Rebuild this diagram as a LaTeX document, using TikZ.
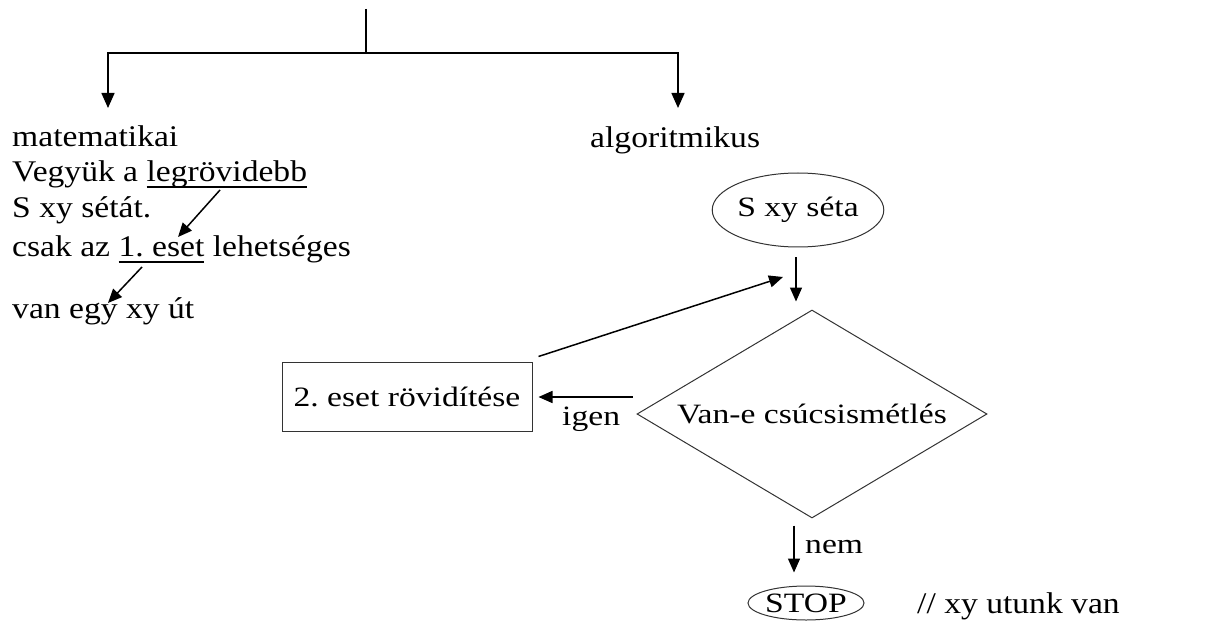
\documentclass[tikz,border=0pt]{standalone}
\usepackage{fontspec}
\setmainfont[FakeStretch=1.2]{Liberation Serif}
\newfontfamily\camfont[FakeStretch=1.12]{Liberation Serif}
\usetikzlibrary{shapes.geometric,arrows.meta}
\newcommand\myul[1]{\sbox0{#1}\rlap{\rule[-6pt]{\wd0}{1.6pt}}\usebox0}
\frenchspacing
\begin{document}
\begin{tikzpicture}[x=1pt,y=-1pt,
  txt/.style={font=\camfont\fontsize{30pt}{36pt}\selectfont, inner sep=0pt, anchor=base west},
  ftxt/.style={font=\fontsize{28pt}{34pt}\selectfont, inner sep=0pt, anchor=base west},
  arr/.style={line width=1.5pt, -{Triangle[length=15pt,width=13pt]}},
  sarr/.style={line width=1.5pt, -{Triangle[length=14pt,width=12pt]}},
  shp/.style={draw=black!80, line width=1pt, font=\fontsize{28pt}{34pt}\selectfont, inner sep=0pt}]
\useasboundingbox (0,0) rectangle (1209,644);
% top tree
\coordinate (root) at (366,9);
\coordinate (fork) at (366,53);
\coordinate (mtip) at (108,108);
\coordinate (atip) at (678,108);
\draw[line width=1.5pt] (root) -- (fork);
\draw[arr] (fork) -| (mtip);
\draw[arr] (fork) -| (atip);
% left text
\node[txt] (l1) at (12,147) {matematikai};
\node[txt] (l2) at (12,182) {Vegyük a \myul{legrövidebb}};
\node[txt] (l3) at (12,218) {S xy sétát.};
\node[txt] (l4) at (12,257) {csak az \myul{1. eset} lehetséges};
\node[txt] (l5) at (12,318) {van egy xy út};
\coordinate (u1) at (220,190);
\coordinate (e1) at (178,237);
\coordinate (u2) at (142,267);
\coordinate (e2) at (108,303);
\draw[sarr] (u1) -- (e1);
\draw[sarr] (u2) -- (e2);
% right side
\node[txt] (alg) at (590,148) {algoritmikus};
\node[shp, ellipse, minimum width=164pt, minimum height=74pt] (seta) at (798,210) {S xy séta};
\node[shp, diamond, aspect=1.68, minimum width=350pt, minimum height=208pt] (diam) at (812,414) {Van-e csúcsismétlés};
\node[shp, rectangle, minimum width=250pt, minimum height=69pt] (box) at (407,396.5) {2. eset rövidítése};
\node[shp, ellipse, minimum width=116pt, minimum height=34pt] (stop) at (806,603) {STOP};
\coordinate (loop) at (783,277);
\draw[sarr, shorten <=10pt, shorten >=8pt] ([xshift=-2pt]seta.south) -- ([xshift=-2pt]seta.south |- diam.north);
\draw[sarr, shorten <=4pt, shorten >=6pt] ([yshift=17pt]diam.west) -- ([yshift=17pt]diam.west -| box.east);
\draw[sarr] ([shift={(6pt,5pt)}]box.north east) -- (loop);
\draw[sarr] ([shift={(-18pt,-7pt)}]diam.south) -- ([shift={(-12pt,13pt)}]stop.north);
\node[ftxt] (igen) at (562,425) {igen};
\node[ftxt] (nem) at (805,553) {nem};
\node[txt] (note) at (917,613) {// xy utunk van};
\end{tikzpicture}
\end{document}
